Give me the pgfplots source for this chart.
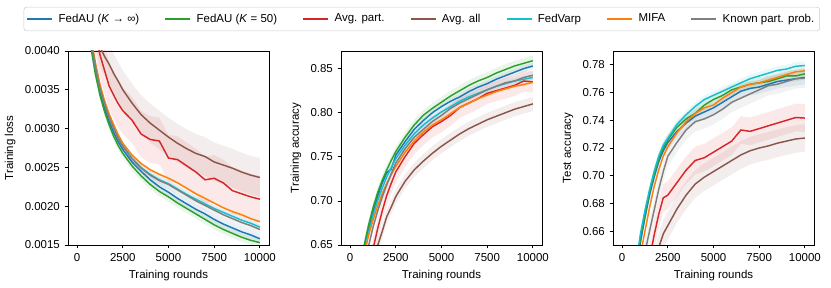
\documentclass[border=0pt]{standalone}
\usepackage{fontspec}
\setmainfont{Liberation Sans}
\usepackage{pgfplots}
\usepgfplotslibrary{fillbetween}
\pgfplotsset{compat=1.18}
\usepackage{pgfplotstable}

\definecolor{cB}{HTML}{1F77B4}
\definecolor{cG}{HTML}{2CA02C}
\definecolor{cR}{HTML}{D62728}
\definecolor{cW}{HTML}{8C564B}
\definecolor{cC}{HTML}{17BECF}
\definecolor{cO}{HTML}{FF7F0E}
\definecolor{cK}{HTML}{7F7F7F}

\pgfplotstableread{
x g b r w c o k
500 0.00450 0.00455 0.00500 0.00500 0.00460 0.00465 0.00460
750 0.00405 0.00410 0.00460 0.00465 0.00415 0.00420 0.00415
1000 0.00370 0.00375 0.00425 0.00430 0.00380 0.00385 0.00380
1250 0.00343 0.00347 0.00395 0.00405 0.00353 0.00357 0.00352
1500 0.00322 0.00326 0.00375 0.00393 0.00333 0.00336 0.00332
1750 0.00305 0.00309 0.00355 0.00383 0.00316 0.00319 0.00314
2000 0.00290 0.00295 0.00343 0.00371 0.00302 0.00305 0.00300
2250 0.00278 0.00283 0.00332 0.00361 0.00289 0.00292 0.00287
2500 0.00268 0.00273 0.00323 0.00350 0.00278 0.00281 0.00277
3000 0.00252 0.00257 0.00311 0.00333 0.00262 0.00266 0.00261
3500 0.00239 0.00245 0.00293 0.00318 0.00250 0.00255 0.00249
4000 0.00228 0.00234 0.00286 0.00307 0.00241 0.00247 0.00240
4500 0.00219 0.00225 0.00284 0.00298 0.00234 0.00241 0.00233
5000 0.00212 0.00218 0.00262 0.00289 0.00229 0.00236 0.00228
5500 0.00204 0.00210 0.00260 0.00281 0.00222 0.00230 0.00221
6000 0.00197 0.00203 0.00252 0.00274 0.00215 0.00223 0.00214
6500 0.00190 0.00196 0.00244 0.00268 0.00209 0.00216 0.00207
7000 0.00183 0.00190 0.00234 0.00264 0.00203 0.00210 0.00201
7500 0.00176 0.00183 0.00236 0.00257 0.00197 0.00204 0.00195
8000 0.00170 0.00177 0.00230 0.00253 0.00192 0.00198 0.00189
8500 0.00165 0.00172 0.00220 0.00249 0.00187 0.00193 0.00184
9000 0.00160 0.00167 0.00216 0.00244 0.00182 0.00189 0.00179
9500 0.00156 0.00163 0.00212 0.00240 0.00178 0.00184 0.00175
10000 0.00153 0.00158 0.00209 0.00237 0.00173 0.00180 0.00170
}\tloss

\pgfplotstableread{
x g b r w c o k
500 0.600 0.595 0.570 0.540 0.590 0.590 0.580
750 0.648 0.643 0.600 0.575 0.640 0.637 0.625
1000 0.672 0.667 0.625 0.605 0.663 0.660 0.648
1250 0.692 0.688 0.645 0.628 0.683 0.678 0.670
1500 0.709 0.705 0.668 0.649 0.700 0.694 0.688
1750 0.723 0.720 0.688 0.665 0.714 0.708 0.704
2000 0.735 0.732 0.706 0.682 0.727 0.720 0.718
2250 0.746 0.736 0.720 0.693 0.738 0.730 0.731
2500 0.756 0.752 0.733 0.705 0.748 0.739 0.743
3000 0.772 0.767 0.750 0.722 0.763 0.755 0.759
3500 0.786 0.781 0.765 0.735 0.776 0.768 0.772
4000 0.797 0.791 0.775 0.745 0.786 0.778 0.781
4500 0.805 0.800 0.784 0.754 0.794 0.786 0.790
5000 0.812 0.807 0.790 0.762 0.801 0.792 0.797
5500 0.819 0.813 0.797 0.769 0.807 0.799 0.805
6000 0.825 0.818 0.806 0.776 0.813 0.806 0.811
6500 0.831 0.824 0.811 0.782 0.818 0.811 0.816
7000 0.836 0.829 0.816 0.787 0.822 0.816 0.821
7500 0.840 0.833 0.822 0.792 0.826 0.820 0.826
8000 0.845 0.838 0.825 0.796 0.830 0.824 0.830
8500 0.849 0.842 0.828 0.800 0.833 0.827 0.834
9000 0.853 0.846 0.831 0.804 0.836 0.830 0.836
9500 0.856 0.850 0.836 0.807 0.838 0.832 0.840
10000 0.859 0.853 0.835 0.810 0.840 0.8345 0.8425
}\tacc

\pgfplotstableread{
x g b r w c o k
500 0.600 0.598 0.560 0.530 0.600 0.590 0.580
750 0.633 0.630 0.590 0.560 0.635 0.622 0.610
1000 0.655 0.652 0.610 0.585 0.658 0.643 0.632
1250 0.672 0.670 0.626 0.605 0.675 0.660 0.645
1500 0.688 0.686 0.640 0.620 0.690 0.677 0.660
1750 0.701 0.699 0.657 0.635 0.703 0.692 0.675
2000 0.712 0.710 0.672 0.648 0.714 0.704 0.690
2250 0.720 0.718 0.684 0.658 0.722 0.714 0.703
2500 0.726 0.724 0.686 0.664 0.727 0.721 0.714
3000 0.735 0.732 0.695 0.676 0.737 0.731 0.724
3500 0.741 0.738 0.704 0.686 0.744 0.739 0.733
4000 0.745 0.743 0.711 0.694 0.750 0.745 0.739
4500 0.751 0.746 0.713 0.699 0.755 0.749 0.741
5000 0.755 0.749 0.717 0.703 0.758 0.751 0.744
5500 0.758 0.753 0.721 0.707 0.761 0.756 0.748
6000 0.762 0.757 0.725 0.711 0.764 0.760 0.753
6500 0.764 0.761 0.733 0.715 0.767 0.764 0.756
7000 0.766 0.763 0.732 0.718 0.770 0.766 0.759
7500 0.767 0.764 0.734 0.720 0.772 0.767 0.762
8000 0.768 0.766 0.736 0.7215 0.774 0.769 0.765
8500 0.770 0.768 0.738 0.7235 0.776 0.771 0.766
9000 0.772 0.769 0.740 0.725 0.777 0.773 0.768
9500 0.772 0.770 0.742 0.7265 0.779 0.775 0.770
10000 0.7735 0.771 0.7416 0.7272 0.7795 0.7757 0.7704
}\ttest

\newcommand{\band}[4]{%
  \addplot[draw=none, name path=U#2, forget plot] table[x=x, y expr=\thisrow{#2}+#3] {#1};
  \addplot[draw=none, name path=L#2, forget plot] table[x=x, y expr=\thisrow{#2}-#3] {#1};
  \addplot[fill=#4, fill opacity=0.1, draw=none, forget plot] fill between[of=U#2 and L#2];
}
\newcommand{\lines}[1]{%
  \addplot[cB] table[x=x, y=b] {#1};
  \addplot[cG] table[x=x, y=g] {#1};
  \addplot[cR] table[x=x, y=r] {#1};
  \addplot[cW] table[x=x, y=w] {#1};
  \addplot[cC] table[x=x, y=c] {#1};
  \addplot[cO] table[x=x, y=o] {#1};
  \addplot[cK] table[x=x, y=k] {#1};
}

\pgfplotsset{
  /pgf/number format/assume math mode=true,
  myax/.style={
    scale only axis, width=150.75pt, height=145.5pt,
    anchor=south west,
    font=\fontsize{8.6}{10}\selectfont,
    xmin=-500, xmax=10500,
    xtick={0,2500,5000,7500,10000},
    scaled x ticks=false, scaled y ticks=false,
    xticklabel style={/pgf/number format/.cd, fixed, set thousands separator={}},
    tick align=outside, xtick pos=bottom, ytick pos=left,
    major tick length=2.6pt,
    tick style={black, line width=0.6pt},
    axis line style={line width=0.6pt},
    xlabel={Training rounds},
    every axis plot/.append style={line width=1.1pt},
    clip=true,
  },
}

\begin{document}
\begin{tikzpicture}
\path (0,0) rectangle (623.25pt,216pt);
\begin{axis}[myax, at={(51pt,32.25pt)},
  ymin=0.0015, ymax=0.0040,
  ytick={0.0015,0.0020,0.0025,0.0030,0.0035,0.0040},
  yticklabel style={/pgf/number format/.cd, fixed, fixed zerofill, precision=4},
  ylabel={Training loss},
  legend columns=7,
  legend style={at={(1.76,1.165)}, anchor=center, draw=black!20, rounded corners=2pt,
    font=\fontsize{8.6}{10}\selectfont, inner xsep=2pt, inner ysep=3pt,
    /tikz/every even column/.append style={column sep=17pt}},
  legend image code/.code={\draw[#1, line width=1.1pt] (0pt,0pt) -- (18.75pt,0pt); \path (21pt,0pt);},
]
\band{\tloss}{b}{0.00006}{cB}
\band{\tloss}{g}{0.00006}{cG}
\band{\tloss}{r}{0.00030}{cR}
\band{\tloss}{w}{0.00025}{cW}
\band{\tloss}{c}{0.00004}{cC}
\band{\tloss}{o}{0.00002}{cO}
\band{\tloss}{k}{0.00006}{cK}
\lines{\tloss}
\addlegendentry{FedAU (\textit{K} → ∞)}
\addlegendentry{FedAU (\textit{K} = 50)}
\addlegendentry{Avg. part.}
\addlegendentry{Avg. all}
\addlegendentry{FedVarp}
\addlegendentry{MIFA}
\addlegendentry{Known part. prob.}
\end{axis}

\begin{axis}[myax, at={(255.75pt,32.25pt)},
  ymin=0.65, ymax=0.87,
  ytick={0.65,0.70,0.75,0.80,0.85},
  yticklabel style={/pgf/number format/.cd, fixed, fixed zerofill, precision=2},
  ylabel={Training accuracy},
]
\band{\tacc}{b}{0.004}{cB}
\band{\tacc}{g}{0.006}{cG}
\band{\tacc}{r}{0.012}{cR}
\band{\tacc}{w}{0.008}{cW}
\band{\tacc}{c}{0.003}{cC}
\band{\tacc}{o}{0.002}{cO}
\band{\tacc}{k}{0.005}{cK}
\lines{\tacc}
\end{axis}

\begin{axis}[myax, at={(459.75pt,32.25pt)},
  ymin=0.65, ymax=0.79,
  ytick={0.66,0.68,0.70,0.72,0.74,0.76,0.78},
  yticklabel style={/pgf/number format/.cd, fixed, fixed zerofill, precision=2},
  ylabel={Test accuracy},
]
\band{\ttest}{b}{0.005}{cB}
\band{\ttest}{g}{0.004}{cG}
\band{\ttest}{r}{0.010}{cR}
\band{\ttest}{w}{0.010}{cW}
\band{\ttest}{c}{0.003}{cC}
\band{\ttest}{o}{0.002}{cO}
\band{\ttest}{k}{0.007}{cK}
\lines{\ttest}
\end{axis}
\end{tikzpicture}
\end{document}
